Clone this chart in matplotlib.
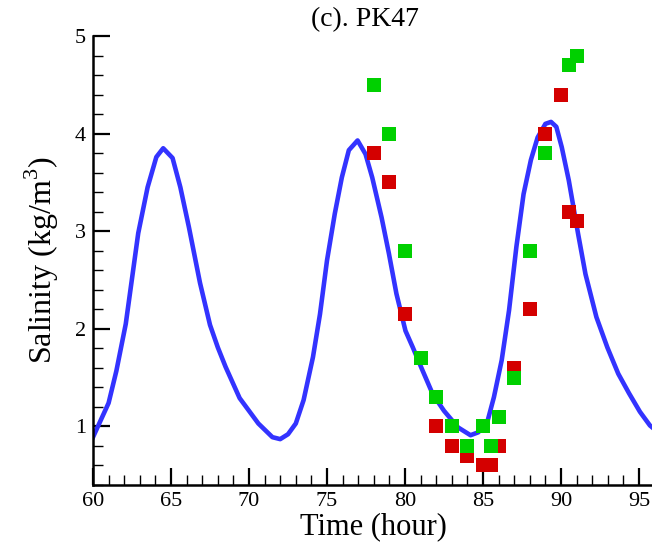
import matplotlib
matplotlib.use('Agg')
import matplotlib.pyplot as plt
from matplotlib.ticker import MultipleLocator

# simulated salinity curve
time_sim = [60.0, 61.0, 61.5, 62.1, 62.9, 63.5, 64.06, 64.5, 65.1, 65.6, 66.15, 66.86,
            67.5, 68.0, 68.5, 69.4, 70.6, 71.5, 72.0, 72.5, 73.0, 73.5, 74.1, 74.55, 75.0,
            75.5, 75.95, 76.4, 76.96, 77.47, 77.9, 78.5, 78.97, 79.45, 80.03, 80.5,
            81.08, 81.78, 82.5, 83.4, 84.2, 84.7, 85.3, 85.7, 86.2, 86.67, 87.14,
            87.6, 88.07, 88.5, 89.0, 89.36, 89.7, 90.05, 90.5, 91.1, 91.57, 92.27,
            92.97, 93.67, 94.36, 95.06, 95.7, 96.0]
sal_sim = [0.89, 1.24, 1.57, 2.05, 2.98, 3.45, 3.76, 3.85, 3.75, 3.45, 3.04, 2.47,
           2.04, 1.81, 1.61, 1.29, 1.03, 0.89, 0.87, 0.92, 1.03, 1.27, 1.71, 2.15, 2.70,
           3.18, 3.55, 3.83, 3.93, 3.79, 3.55, 3.14, 2.77, 2.36, 1.98, 1.81,
           1.59, 1.33, 1.16, 0.99, 0.91, 0.94, 1.06, 1.30, 1.68, 2.19, 2.84,
           3.38, 3.73, 3.96, 4.10, 4.12, 4.07, 3.86, 3.52, 2.97, 2.56, 2.12,
           1.81, 1.54, 1.34, 1.15, 1.01, 0.97]

# measured points (red)
time_red = [78, 79, 80, 82, 83, 84, 85, 85.5, 86, 87, 88, 89, 90, 90.5, 91]
sal_red = [3.8, 3.5, 2.15, 1.0, 0.8, 0.7, 0.6, 0.6, 0.8, 1.6, 2.2, 4.0, 4.4, 3.2, 3.1]

# measured points (green)
time_green = [78, 79, 80, 81, 82, 83, 84, 85, 85.5, 86, 87, 88, 89, 90.5, 91]
sal_green = [4.5, 4.0, 2.8, 1.7, 1.3, 1.0, 0.8, 1.0, 0.8, 1.1, 1.5, 2.8, 3.8, 4.7, 4.8]

plt.rcParams['font.family'] = ['Liberation Serif', 'DejaVu Serif']
plt.rcParams['mathtext.fontset'] = 'custom'
plt.rcParams['mathtext.rm'] = 'Liberation Serif'

fig = plt.figure(figsize=(6.52, 5.47), dpi=100)
ax = fig.add_axes([93 / 652, 62 / 547, 561.6 / 652, 449 / 547])

ax.plot(time_sim, sal_sim, color='#3333ff', lw=3.3, zorder=2)
ax.plot(time_red, sal_red, 's', color='#d40000', ms=10, mew=0, zorder=3)
ax.plot(time_green, sal_green, 's', color='#00d000', ms=10, mew=0, zorder=4)

ax.set_xlim(60, 96)
ax.set_ylim(0.4, 5)
ax.xaxis.set_major_locator(MultipleLocator(5))
ax.xaxis.set_minor_locator(MultipleLocator(1))
ax.yaxis.set_major_locator(MultipleLocator(1))
ax.yaxis.set_minor_locator(MultipleLocator(0.2))

ax.spines['top'].set_visible(False)
ax.spines['right'].set_visible(False)
for s in ['left', 'bottom']:
    ax.spines[s].set_linewidth(1.8)
ax.tick_params(which='both', direction='in', top=False, right=False, labelsize=16)
ax.tick_params(which='major', length=12, width=1.6, pad=5)
ax.tick_params(which='minor', length=7, width=1.0)

ax.set_xlabel('Time (hour)', fontsize=22, labelpad=1)
ax.set_ylabel('Salinity (kg/m$^3$)', fontsize=23, labelpad=10)
fig.text(365 / 652, 1 - 20 / 547, '(c). PK47', ha='center', va='center', fontsize=20)

fig.savefig('out.png', dpi=100)
